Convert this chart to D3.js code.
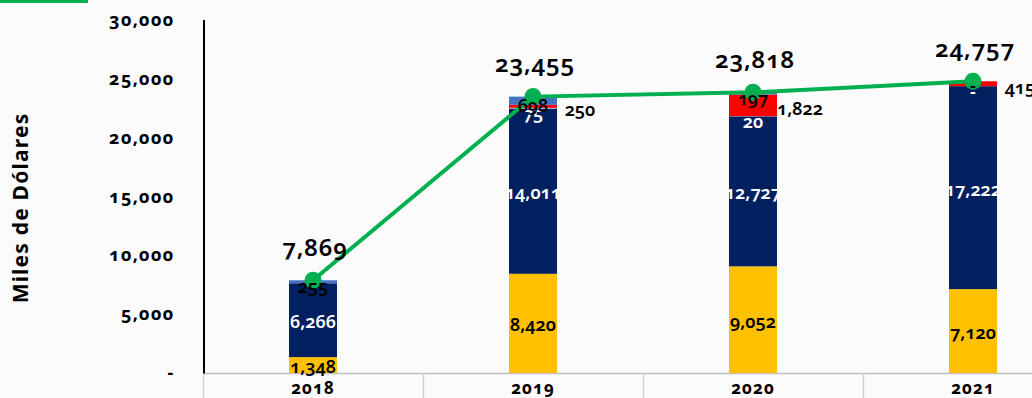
<!DOCTYPE html>
<html>
<head>
<meta charset="utf-8">
<script src="https://cdn.jsdelivr.net/npm/d3@7"></script>
<style>
  html, body { margin: 0; padding: 0; background: #fbfbfb; }
  svg { display: block; font-family: "Noto Sans", "DejaVu Sans", sans-serif; font-variant-numeric: oldstyle-nums; }
</style>
</head>
<body>
<svg id="chart" width="1032" height="398"></svg>
<script>
// Categories (years) and stacked series values, in thousands of dollars
const categories = ["2018", "2019", "2020", "2021"];
const baseValues  = [1348, 8420, 9052, 7120];     // yellow, bottom
const mainValues  = [6266, 14011, 12727, 17222];  // navy
const minorValues = [null, 75, 20, 0];            // thin segment
const redValues   = [null, 250, 1822, 415];       // red
const topValues   = [255, 698, 197, 0];           // blue, top
const totals      = [7869, 23455, 23818, 24757];  // green line
const yTicks      = [0, 5000, 10000, 15000, 20000, 25000, 30000];
const yTitle      = "Miles de Dólares";

const seriesKeys = ["base", "main", "minor", "red", "top"];
const seriesSource = { base: baseValues, main: mainValues, minor: minorValues, red: redValues, top: topValues };
const colors = { base: "#FFC000", main: "#002060", minor: "#8FAADC", red: "#FF0000", top: "#4472C4" };
const GREEN = "#00B050";

const table = categories.map((c, i) => {
  const row = { cat: c };
  seriesKeys.forEach(k => { row[k] = seriesSource[k][i] ?? 0; });
  return row;
});

const svg = d3.select("#chart");
const W = 1032, H = 398;

const x = d3.scaleBand().domain(categories).range([203, 1083]).padding(0);
const y = d3.scaleLinear().domain([0, 30000]).range([373, 19.5]);
const barW = 48;
const cx = c => x(c) + x.bandwidth() / 2;

// accent strip in the top-left corner
svg.append("rect").attr("x", 0).attr("y", 0).attr("width", 88).attr("height", 3).attr("fill", GREEN);

// category axis: grey baseline with separators between years
const xAxisG = svg.append("g");
xAxisG.append("line")
  .attr("x1", 203).attr("x2", W).attr("y1", 373.5).attr("y2", 373.5)
  .attr("stroke", "#bfbfbf").attr("stroke-width", 1.5);
xAxisG.selectAll("line.sep").data(categories).join("line")
  .attr("class", "sep")
  .attr("x1", d => Math.round(x(d)) + 0.5).attr("x2", d => Math.round(x(d)) + 0.5)
  .attr("y1", 373).attr("y2", H)
  .attr("stroke", "#d0d0d0").attr("stroke-width", 1.5);
svg.append("g")
  .attr("transform", "translate(0,373)")
  .call(d3.axisBottom(x).tickSize(0).tickPadding(9))
  .call(g => g.select(".domain").remove())
  .call(g => g.selectAll("text")
    .attr("font-size", 17).attr("font-weight", "bold").attr("fill", "#000")
    .attr("letter-spacing", 1)
    .attr("font-family", "'Noto Sans', sans-serif"));

// stacked bars
const stacked = d3.stack().keys(seriesKeys)(table);
const barsG = svg.append("g");
stacked.forEach(layer => {
  barsG.selectAll(null).data(layer).join("rect")
    .attr("x", d => cx(d.data.cat) - barW / 2)
    .attr("width", barW)
    .attr("y", d => y(d[1]))
    .attr("height", d => Math.max(0, y(d[0]) - y(d[1])))
    .attr("fill", colors[layer.key]);
});

// y axis
svg.append("g")
  .attr("transform", "translate(203.5,0)")
  .call(d3.axisLeft(y).tickValues(yTicks).tickSize(0).tickSizeOuter(0).tickPadding(29)
    .tickFormat(v => v === 0 ? "-" : d3.format(",")(v)))
  .call(g => g.select(".domain").attr("stroke", "#000").attr("stroke-width", 2))
  .call(g => g.selectAll("text")
    .attr("font-size", 18).attr("font-weight", "bold").attr("fill", "#000")
    .attr("letter-spacing", 1.3)
    .attr("font-family", "'Noto Sans', sans-serif"));

svg.append("text")
  .attr("transform", "translate(20,208) rotate(-90)")
  .attr("text-anchor", "middle").attr("dominant-baseline", "central")
  .attr("font-size", 21).attr("font-weight", "bold").attr("fill", "#000")
  .attr("letter-spacing", 1.2)
  .text(yTitle);

// totals line and markers
const linePts = categories.map((c, i) => [cx(c), y(totals[i])]);
svg.append("path")
  .attr("d", d3.line()(linePts))
  .attr("fill", "none").attr("stroke", GREEN).attr("stroke-width", 4);
svg.selectAll("circle.tot").data(linePts).join("circle")
  .attr("class", "tot")
  .attr("cx", d => d[0]).attr("cy", d => d[1]).attr("r", 8.5)
  .attr("fill", GREEN);

// segment labels
const fmt = v => v === 0 ? "-" : d3.format(",")(v);
const labelStyle = {
  base:  { fill: "#000", dx: 0,  dy: 1 },
  main:  { fill: "#fff", dx: 0,  dy: 1 },
  minor: { fill: "#fff", dx: 0,  dy: 5 },
  red:   { fill: "#000", dx: 47, dy: 3 },
  top:   { fill: "#000", dx: 0,  dy: 4 }
};
const labelsG = svg.append("g");
stacked.forEach(layer => {
  const st = labelStyle[layer.key];
  const src = seriesSource[layer.key];
  layer.forEach((d, i) => {
    if (src[i] === null) return;
    labelsG.append("text")
      .attr("x", cx(d.data.cat) + st.dx)
      .attr("y", (y(d[0]) + y(d[1])) / 2 + st.dy)
      .attr("text-anchor", "middle").attr("dominant-baseline", "central")
      .attr("font-size", 18).attr("font-weight", 600)
      .attr("fill", st.fill)
      .text(fmt(src[i]));
  });
});

// total labels above the markers
svg.selectAll("text.total").data(categories).join("text")
  .attr("class", "total")
  .attr("x", c => cx(c) + 2)
  .attr("y", (c, i) => y(totals[i]) - 34)
  .attr("text-anchor", "middle").attr("dominant-baseline", "central")
  .attr("font-size", 24).attr("font-weight", 600).attr("fill", "#000")
  .attr("letter-spacing", 0.8)
  .text((c, i) => d3.format(",")(totals[i]));
</script>
</body>
</html>
